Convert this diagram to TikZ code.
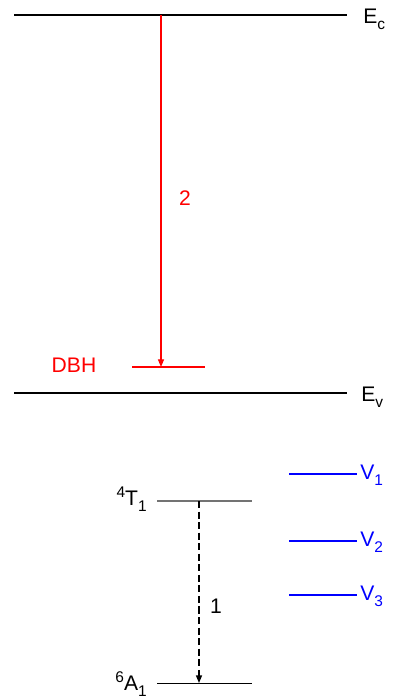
\documentclass[tikz,border=0pt]{standalone}
\usepackage{fontspec}
\setmainfont{Liberation Sans}
\usetikzlibrary{arrows.meta, positioning}
\newcommand{\lsub}[1]{\raisebox{-4.5pt}{\fontsize{11}{12}\selectfont #1}}
\newcommand{\lsup}[1]{\raisebox{5pt}{\fontsize{11}{12}\selectfont #1}}

\begin{document}
\begin{tikzpicture}[x=0.025cm, y=-0.025cm,
      band/.style={line width=1.4pt},
      lvl/.style={line width=0.8pt},
      vlvl/.style={line width=1.1pt, blue},
      txt/.style={font=\fontsize{15}{17}\selectfont, inner sep=0pt},
      arr/.style={-{Triangle[length=1.9mm, width=1.5mm]}, line width=0.8pt}]
      \useasboundingbox (0,0) rectangle (395,700);
      % band edges
      \draw[band] (14,15) -- (347,15);
      \draw[band] (14,393) -- (347,393);
      \node[txt, anchor=base west] (ec) at (363,23) {E\lsub{c}};
      \node[txt, anchor=base west] (ev) at (361,401) {E\lsub{v}};
      % deep level
      \draw[lvl, red, line width=1.1pt] (132,367) -- (205,367);
      \node[txt, red] (dbh) at (74,365) {DBH};
      \coordinate (ectop) at (161,15);
      \coordinate (dbhlvl) at (161,367);
      \draw[arr, draw=red, fill=red] (ectop) -- (dbhlvl);
      \node[txt, red] (two) at (185,198) {2};
      % Mn levels
      \draw[lvl, black!55] (157,501) -- (252,501);
      \draw[lvl, line width=0.7pt] (157,683) -- (252,683);
      \node[txt, anchor=base east] (t1) at (147,505) {\lsup{4}T\lsub{1}};
      \node[txt, anchor=base east] (a1) at (147,690) {\lsup{6}A\lsub{1}};
      \coordinate (t1lvl) at (199,501);
      \coordinate (a1lvl) at (199,683);
      \draw[arr, line width=0.9pt, dash pattern=on 5pt off 2.5pt] (t1lvl) -- (a1lvl);
      \node[txt] (one) at (216,606) {1};
      % V levels
      \draw[vlvl] (289,474) -- (357,474);
      \draw[vlvl] (289,541) -- (357,541);
      \draw[vlvl] (289,595) -- (357,595);
      \node[txt, blue, anchor=base west] (v1) at (360,479) {V\lsub{1}};
      \node[txt, blue, anchor=base west] (v2) at (360,546) {V\lsub{2}};
      \node[txt, blue, anchor=base west] (v3) at (360,600) {V\lsub{3}};
    \end{tikzpicture}
\end{document}
